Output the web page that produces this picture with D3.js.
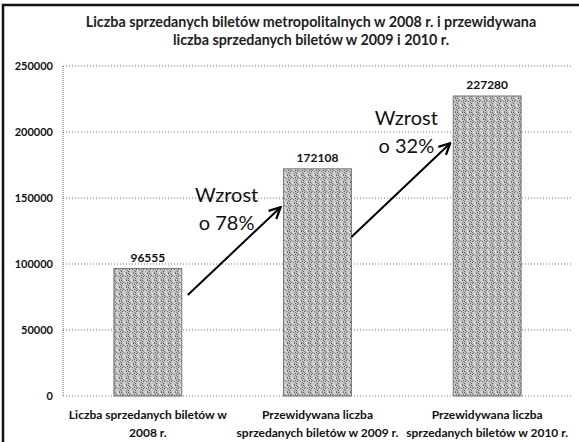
<!DOCTYPE html>
<html><head><meta charset="utf-8">
<script src="https://cdn.jsdelivr.net/npm/d3@7"></script>
<style>
html,body{margin:0;padding:0;background:#fff;}
svg{display:block;font-family:Lato,"Open Sans",sans-serif;}
</style></head>
<body>
<script>
const titleLines = ["Liczba sprzedanych biletów metropolitalnych w 2008 r. i przewidywana",
                    "liczba sprzedanych biletów w 2009 i 2010 r."];
const categories = [["Liczba sprzedanych biletów w","2008 r."],
                    ["Przewidywana liczba","sprzedanych biletów w 2009 r."],
                    ["Przewidywana liczba","sprzedanych biletów w 2010 r."]];
const values = [96555, 172108, 227280];
const yTicks = [0, 50000, 100000, 150000, 200000, 250000];
const growthLabels = [["Wzrost","o 78%"],["Wzrost","o 32%"]];
// arrows: from bar i (value at start) to bar i+1 (value at end)
const arrowStart = [76500, 120500];
const arrowEnd = [143000, 191500];
const labelValue = [148500, 206800];

const W = 579, H = 442;
const m = {left:63, right:7, top:66, bottom:46};
const svg = d3.select("body").append("svg").attr("width",W).attr("height",H);

const defs = svg.append("defs");
const pat = defs.append("pattern").attr("id","stip").attr("patternUnits","userSpaceOnUse")
  .attr("width",7).attr("height",7);
pat.append("rect").attr("width",7).attr("height",7).attr("fill","#c2c2c2");
[[0,0],[3,1],[5,0],[1,2],[6,3],[4,4],[2,5],[0,6],[5,6],[3,3],[1,4],[6,1],[2,0],[4,2]].forEach(([a,b],i)=>{
  pat.append("rect").attr("x",a).attr("y",b).attr("width",1).attr("height",1)
    .attr("fill", i%3===0 ? "#5e5e5e" : (i%3===1 ? "#7e7e7e" : "#e8e8e8"));
});
defs.append("marker").attr("id","arr").attr("viewBox","0 0 10 10").attr("refX",9).attr("refY",5)
  .attr("markerWidth",7).attr("markerHeight",7).attr("orient","auto")
  .append("path").attr("d","M1,1 L9,5 L1,9").attr("fill","none").attr("stroke","#000").attr("stroke-width",1.6);

// outer border
svg.append("path").attr("d",`M3,${H} L3,5 L${W},5`).attr("fill","none").attr("stroke","#111").attr("stroke-width",2.5);

const x = d3.scaleBand().domain(d3.range(values.length)).range([m.left, W-m.right])
  .paddingInner(0.6).paddingOuter(0.3);
const y = d3.scaleLinear().domain([0,250000]).range([H-m.bottom, m.top]);

// title
svg.append("text").attr("x",311).attr("y",27).attr("text-anchor","middle")
  .attr("font-size",14.3).attr("font-weight","bold").attr("fill","#222")
  .selectAll("tspan").data(titleLines).join("tspan")
  .attr("x",311).attr("dy",(d,i)=>i?18:0).text(d=>d);

// gridlines
svg.append("g").selectAll("line").data(yTicks).join("line")
  .attr("x1",m.left).attr("x2",W-m.right).attr("y1",d=>y(d)).attr("y2",d=>y(d))
  .attr("stroke","#777").attr("stroke-width",1).attr("stroke-dasharray","1,2");
// y axis line
svg.append("line").attr("x1",m.left).attr("x2",m.left).attr("y1",y(250000)).attr("y2",y(0))
  .attr("stroke","#666").attr("stroke-dasharray","1,1");

// y tick labels
const yAxis = d3.axisLeft(y).tickValues(yTicks).tickSize(0).tickPadding(10).tickFormat(d3.format("d"));
const ya = svg.append("g").attr("transform",`translate(${m.left},0)`).call(yAxis);
ya.select(".domain").remove();
ya.selectAll("text").attr("font-size",11).attr("font-weight","bold").attr("fill","#111")
  .attr("font-family","Lato,sans-serif");

// bars
svg.append("g").selectAll("rect").data(values).join("rect")
  .attr("x",(d,i)=>x(i)).attr("width",x.bandwidth())
  .attr("y",d=>y(d)).attr("height",d=>y(0)-y(d))
  .attr("fill","url(#stip)").attr("stroke","#777").attr("stroke-width",1);

// value labels
svg.append("g").selectAll("text").data(values).join("text")
  .attr("x",(d,i)=>x(i)+x.bandwidth()/2).attr("y",d=>y(d)-7)
  .attr("text-anchor","middle").attr("font-size",12).attr("font-weight","bold").attr("fill","#111")
  .text(d=>d);

// x labels
const xl = svg.append("g").selectAll("text").data(categories).join("text")
  .attr("text-anchor","middle").attr("font-size",12).attr("font-weight","bold").attr("fill","#111");
xl.selectAll("tspan").data((d,i)=>d.map(s=>({s,i}))).join("tspan")
  .attr("x",d=>x(d.i)+x.bandwidth()/2).attr("y",(d,j)=>y(0)+23+j*18).text(d=>d.s);

// arrows
const arrowGap = [6, 0];
arrowStart.forEach((v,i)=>{
  svg.append("line")
    .attr("x1",x(i)+x.bandwidth()+arrowGap[i]).attr("y1",y(v))
    .attr("x2",x(i+1)-3).attr("y2",y(arrowEnd[i]))
    .attr("stroke","#000").attr("stroke-width",2).attr("marker-end","url(#arr)");
});

// growth labels
const labelShift = [-6, 4];
growthLabels.forEach((lines,i)=>{
  const cx = (x(i)+x(i+1))/2 + x.bandwidth()/2 + labelShift[i];
  svg.append("text").attr("text-anchor","middle").attr("font-size",20).attr("fill","#111")
    .selectAll("tspan").data(lines).join("tspan")
    .attr("x",cx).attr("y",(d,j)=>y(labelValue[i])+2+j*28).text(d=>d);
});
</script>
</body></html>
